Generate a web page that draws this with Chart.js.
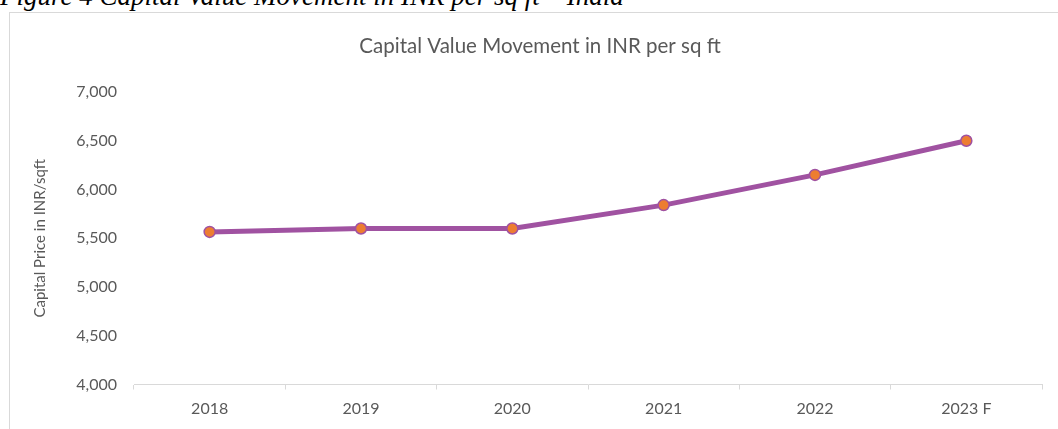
<!DOCTYPE html>
<html lang="en">
<head>
    <meta charset="UTF-8">
    <title>Capital Value Movement</title>
    <script src="https://cdn.jsdelivr.net/npm/chart.js"></script>
    <style>
        body { margin: 0; width: 1058px; height: 429px; overflow: hidden; background: #fff; position: relative; }
        #caption {
            position: absolute; left: 0; top: -17px;
            font-family: "Liberation Serif", "Times New Roman", serif;
            font-style: italic; font-size: 27px; line-height: 27px;
            color: #000; white-space: nowrap;
        }
        #box {
            position: absolute; left: 9px; top: 12px;
            width: 1060px; height: 430px;
            border: 1px solid #d9d9d9;
        }
    </style>
</head>
<body>
    <div id="caption">Figure 4 Capital Value Movement in INR per sq ft – India</div>
    <div id="box">
        <canvas id="myChart" width="1060" height="416"></canvas>
    </div>

    <script>
        var years = ['2018', '2019', '2020', '2021', '2022', '2023 F'];
        var capitalValue = [5565, 5600, 5600, 5840, 6150, 6500];
        var yMin = 4000, yMax = 7000, yStep = 500;

        var textGrey = '#595959';
        var fontName = 'Lato';

        const ctx = document.getElementById('myChart');

        // equal side padding keeps the chart title centred on the whole box
        var myChart = new Chart(ctx, {
            type: 'line',
            data: {
                labels: years,
                datasets: [{
                    label: 'Capital Price in INR/sqft',
                    data: capitalValue,
                    borderColor: '#A052A1',
                    borderWidth: 5,
                    pointBackgroundColor: '#ED7D31',
                    pointBorderColor: '#A052A1',
                    pointBorderWidth: 1.5,
                    pointRadius: 5.5,
                    tension: 0
                }]
            },
            options: {
                responsive: false,
                animation: false,
                layout: { padding: { left: 28, right: 28, top: 0, bottom: 0 } },
                plugins: {
                    legend: { display: false },
                    tooltip: { enabled: false },
                    title: {
                        display: true,
                        text: 'Capital Value Movement in INR per sq ft',
                        color: textGrey,
                        font: { family: fontName, size: 20.5, weight: 'normal' },
                        padding: { top: 21.2, bottom: 33.2 }
                    }
                },
                scales: {
                    x: {
                        offset: true,
                        grid: { offset: true, drawOnChartArea: false, tickLength: 5, color: '#d9d9d9' },
                        border: { color: '#d9d9d9' },
                        ticks: { color: textGrey, padding: 10, font: { family: fontName, size: 16 } },
                        afterFit: function(s) { s.height = 44.5; }
                    },
                    y: {
                        min: yMin,
                        max: yMax,
                        grid: { display: false, drawTicks: false },
                        border: { display: false },
                        ticks: {
                            stepSize: yStep,
                            padding: 17,
                            color: textGrey,
                            font: { family: fontName, size: 16 },
                            callback: function(v) { return v.toLocaleString('en-US'); }
                        },
                        title: {
                            display: true,
                            text: 'Capital Price in INR/sqft',
                            color: textGrey,
                            font: { family: fontName, size: 15 },
                            padding: { top: -7, bottom: 0 }
                        },
                        afterFit: function(s) { s.width = 96; }
                    }
                }
            }
        });
    </script>
</body>
</html>
